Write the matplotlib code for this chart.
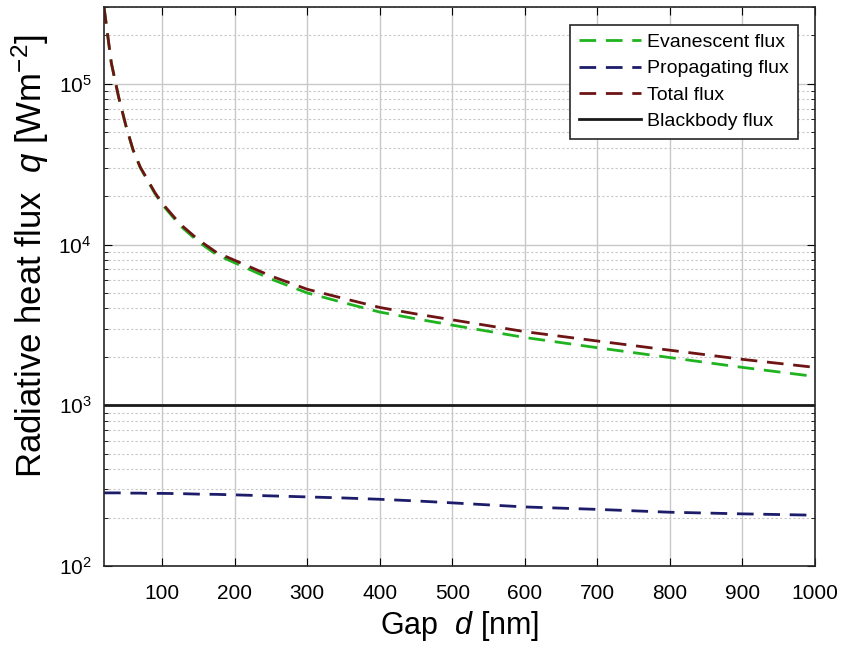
import matplotlib.pyplot as plt
from matplotlib.ticker import LogLocator, NullFormatter

plt.rcParams['font.family'] = ['Liberation Sans', 'DejaVu Sans']
plt.rcParams['mathtext.fontset'] = 'custom'
plt.rcParams['mathtext.rm'] = 'Liberation Sans'
plt.rcParams['mathtext.it'] = 'Liberation Sans:italic'

# Gap values [nm] and fluxes [W/m^2]
gap = [20, 30, 40, 50, 60, 70, 80, 90, 100, 125, 150, 175, 200, 250, 300,
       350, 400, 450, 500, 600, 700, 800, 900, 1000]
evanescent = [3.0e5, 1.35e5, 8.3e4, 5.5e4, 3.86e4, 3.0e4, 2.5e4, 2.08e4, 1.78e4,
              1.31e4, 1.04e4, 8.65e3, 7.7e3, 6.1e3, 5.0e3, 4.35e3, 3.8e3,
              3.45e3, 3.15e3, 2.64e3, 2.28e3, 1.98e3, 1.72e3, 1.51e3]
propagating = [285, 285, 285, 284, 284, 284, 283, 283, 283, 282, 280, 279,
               277, 273, 269, 265, 260, 254, 247, 233, 225, 216, 211, 207]
total = [3.0e5, 1.353e5, 8.33e4, 5.53e4, 3.89e4, 3.03e4, 2.53e4, 2.11e4,
         1.81e4, 1.34e4, 1.07e4, 8.93e3, 7.98e3, 6.37e3, 5.27e3, 4.62e3,
         4.06e3, 3.70e3, 3.40e3, 2.87e3, 2.51e3, 2.20e3, 1.93e3, 1.72e3]
blackbody = [1000] * len(gap)

fig = plt.figure(figsize=(8.43, 6.45), dpi=100)
ax = fig.add_axes([0.1234, 0.1225, 0.8434, 0.8665])

dash = (6, 3.5)
ax.plot(gap, evanescent, color='#1fb31f', lw=2, dashes=dash, label='Evanescent flux')
ax.plot(gap, propagating, color='#1c1c6b', lw=2, dashes=dash, label='Propagating flux')
ax.plot(gap, total, color='#6e1414', lw=2, dashes=dash, label='Total flux')
ax.plot(gap, blackbody, color='#1a1a1a', lw=2, label='Blackbody flux')

ax.set_yscale('log')
ax.set_xlim(20, 1000)
ax.set_ylim(100, 3e5)
ax.set_xticks(range(100, 1001, 100))
ax.yaxis.set_minor_locator(LogLocator(base=10, subs=range(2, 10)))
ax.yaxis.set_minor_formatter(NullFormatter())

ax.grid(True, which='major', color='#c8c8c8', lw=1)
ax.grid(True, which='minor', axis='y', color='#c8c8c8', lw=0.8, ls=(0, (2, 2)))
ax.set_axisbelow(True)

ax.tick_params(which='both', direction='in', top=True, right=True, labelsize=15)
ax.tick_params(axis='x', pad=13)
ax.tick_params(axis='y', pad=9)
ax.tick_params(which='major', length=6)
ax.tick_params(which='minor', length=3)
for s in ax.spines.values():
    s.set_linewidth(1.2)
    s.set_color('#262626')

ax.set_xlabel('Gap  $d$ [nm]', fontsize=22, labelpad=4)
ax.set_ylabel('Radiative heat flux  $q$ [Wm$^{-2}$]', fontsize=25, labelpad=4)
ax.yaxis.set_label_coords(-0.075, 0.555)

leg = ax.legend(loc='upper right', fontsize=14, fancybox=False, framealpha=1,
                edgecolor='#262626', handlelength=3.2, borderaxespad=0.9,
                labelspacing=0.45, handletextpad=0.3, borderpad=0.45)
leg.get_frame().set_linewidth(1.2)

fig.savefig('out.png', dpi=100)
